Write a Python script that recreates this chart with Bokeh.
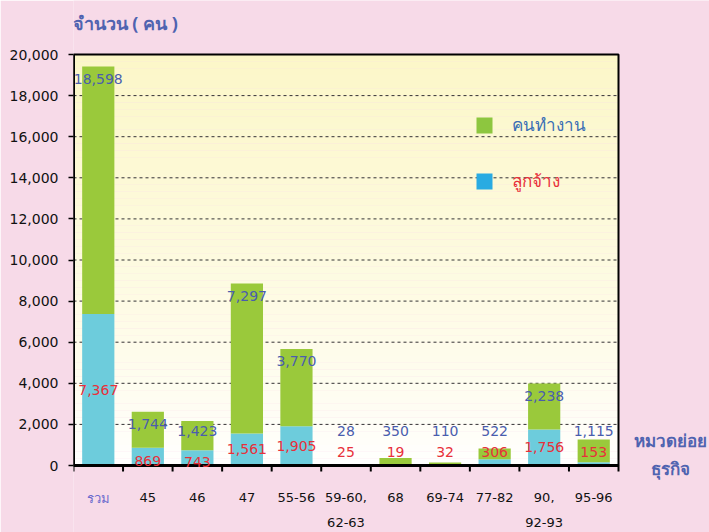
from bokeh.plotting import figure
from bokeh.models import Range1d, FixedTicker, Legend, LegendItem, NumeralTickFormatter, ColumnDataSource
from bokeh.core.properties import value
from bokeh.embed import file_html
from bokeh.resources import INLINE

# ---- data ----
cat_line1 = ["รวม", "45", "46", "47", "55-56", "59-60,", "68", "69-74", "77-82", "90,", "95-96"]
cat_line2 = ["", "", "", "", "", "62-63", "", "", "", "92-93", ""]
employees = [7367, 869, 743, 1561, 1905, 25, 19, 32, 306, 1756, 153]          # ลูกจ้าง
workers = [18598, 1744, 1423, 7297, 3770, 28, 350, 110, 522, 2238, 1115]      # คนทำงาน (labels)
workers_bar = [12050, 1744, 1423, 7297, 3770, 28, 350, 110, 522, 2238, 1115]  # green segment as drawn
y_ticks = [0, 2000, 4000, 6000, 8000, 10000, 12000, 14000, 16000, 18000, 20000]

PINK = "#F7DAE8"
GREEN = "#9AC93B"
CYAN = "#6DCCDC"
BLUE_TXT = "#4A5DAE"
RED_TXT = "#E8303A"
TITLE_C = "#4F63B0"
FONT = "DejaVu Sans"
THAI = "Noto Sans"

W, H = 709, 532
# plot-area box in page pixels
L, R, T, B = 73, 618, 54, 465
n = len(cat_line1)
YMAX = y_ticks[-1]
sy = (B - T) / YMAX          # px per unit
sx = (R - L) / n             # px per category
y_lo = -(H - B) / sy
y_hi = YMAX + T / sy
x_hi = n + (W - R) / sx

xs = [i + 0.5 for i in range(n)]
tops = [e + w for e, w in zip(employees, workers_bar)]

p = figure(width=W, height=H, output_backend="svg", toolbar_location=None,
           x_range=Range1d(0, x_hi), y_range=Range1d(y_lo, y_hi),
           x_axis_location=None,
           min_border_left=L, min_border_right=0, min_border_top=0, min_border_bottom=0)
p.title.visible = False
p.background_fill_color = PINK
p.border_fill_color = PINK
p.outline_line_color = None
p.xgrid.visible = False
p.ygrid.visible = False

# gradient plot-area background (decorative)
N = 60
top_c = (252, 247, 200)
bands_b = [YMAX * k / N for k in range(N)]
bands_t = [YMAX * (k + 1) / N for k in range(N)]
cols = []
for k in range(N):
    f = ((k + 0.5) / N) ** 0.8
    cols.append("#%02x%02x%02x" % tuple(int(round(255 + (c - 255) * f)) for c in top_c))
p.quad(left=0, right=n, bottom=bands_b, top=bands_t, fill_color=cols, line_color=None)

# dashed grid lines
grid_y = y_ticks[1:-1]
p.segment(x0=[0] * len(grid_y), x1=[n] * len(grid_y), y0=grid_y, y1=grid_y,
          line_color="#333333", line_dash="3 3", line_width=1)

# bars
src = ColumnDataSource(dict(x=xs, emp=employees, wb=workers_bar, top=tops))
cyan_r = p.vbar(x="x", width=0.65, bottom=0, top="emp", source=src, fill_color=CYAN, line_color=None)
green_r = p.vbar(x="x", width=0.65, bottom="emp", top="top", source=src, fill_color=GREEN, line_color=None)

# frame box and axis lines
p.quad(left=0, right=n, bottom=0, top=YMAX, fill_color=None, line_color="black", line_width=2)
p.segment(x0=[0, 0], y0=[0, 0], x1=[0, n], y1=[YMAX, 0], line_color="black", line_width=3)

# x ticks at category boundaries (6 px long, pointing down)
bx = list(range(n + 1))
p.segment(x0=bx, x1=bx, y0=[0] * len(bx), y1=[-6 / sy] * len(bx), line_color="black", line_width=2)

# data labels
blue_y = [max(t - 600, 1700) for t in tops]
red_y = [e / 2 if e >= 1000 else (e / 4 if e >= 500 else 650) for e in employees]
lab = ColumnDataSource(dict(x=xs, by=blue_y, ry=red_y,
                            bt=[f"{w:,}" for w in workers], rt=[f"{e:,}" for e in employees]))
p.text(x="x", y="by", text="bt", source=lab, text_color=BLUE_TXT, text_font=value(FONT),
       text_font_size="14px", text_align="center", text_baseline="middle")
p.text(x="x", y="ry", text="rt", source=lab, text_color=RED_TXT, text_font=value(FONT),
       text_font_size="14px", text_align="center", text_baseline="middle")

# category labels
cat_col = ["#6A6ACD"] + ["#111111"] * (n - 1)
cat_font = [THAI] + [FONT] * (n - 1)
cl = ColumnDataSource(dict(x=xs, y=[0] * n, t1=cat_line1, t2=cat_line2, c=cat_col, f=cat_font))
p.text(x="x", y="y", text="t1", source=cl, y_offset=32, text_color="c", text_font="f",
       text_font_size="13px", text_align="center", text_baseline="middle")
p.text(x="x", y="y", text="t2", source=cl, y_offset=57, text_color="c", text_font="f",
       text_font_size="13px", text_align="center", text_baseline="middle")

# axis titles
p.text(x=[0], y=[YMAX], text=["จำนวน ( คน )"], x_offset=-1, y_offset=-32, text_align="left",
       text_baseline="middle", text_font=value(THAI), text_font_size="18px",
       text_font_style="bold", text_color=TITLE_C)
p.text(x=[n, n], y=[0, 0], text=["หมวดย่อย", "ธุรกิจ"], x_offset=52, y_offset=[-25, 3],
       text_align="center", text_baseline="middle", text_font=value(THAI), text_font_size="17px",
       text_font_style="bold", text_color=TITLE_C)

# y axis
ya = p.yaxis[0]
ya.ticker = FixedTicker(ticks=y_ticks)
ya.formatter = NumeralTickFormatter(format="0,0")
ya.axis_line_color = None
ya.major_tick_out = 5
ya.major_tick_in = 0
ya.major_tick_line_width = 1.5
ya.major_tick_line_color = "black"
ya.minor_tick_line_color = None
ya.major_label_standoff = 10
ya.major_label_text_font = FONT
ya.major_label_text_font_size = "14px"
ya.major_label_text_color = "#111111"

# legend: zero-height dummy bars carry the legend swatch colours
dsrc = ColumnDataSource(dict(x=xs[:1], z=[0]))
g_dummy = p.vbar(x="x", top="z", bottom="z", width=0.5, source=dsrc, fill_color="#8DC63F", line_color=None)
c_dummy = p.vbar(x="x", top="z", bottom="z", width=0.5, source=dsrc, fill_color="#29ABE2", line_color=None)
for rend, txt, tc, loc in [(g_dummy, "คนทำงาน", "#3A6EB5", (474 - L, H - 138)),
                           (c_dummy, "ลูกจ้าง", RED_TXT, (474 - L, H - 194))]:
    lg = Legend(items=[LegendItem(label=txt, renderers=[rend])], location=loc,
                glyph_width=20, glyph_height=20, label_standoff=18, padding=0, margin=0,
                background_fill_alpha=0, border_line_color=None,
                label_text_color=tc, label_text_font=THAI, label_text_font_size="17px",
                label_height=20)
    p.add_layout(lg)

html = file_html(p, INLINE)
html = html.replace("<body>", '<body style="background:%s">' % PINK, 1)
open("out.html", "w").write(html)
